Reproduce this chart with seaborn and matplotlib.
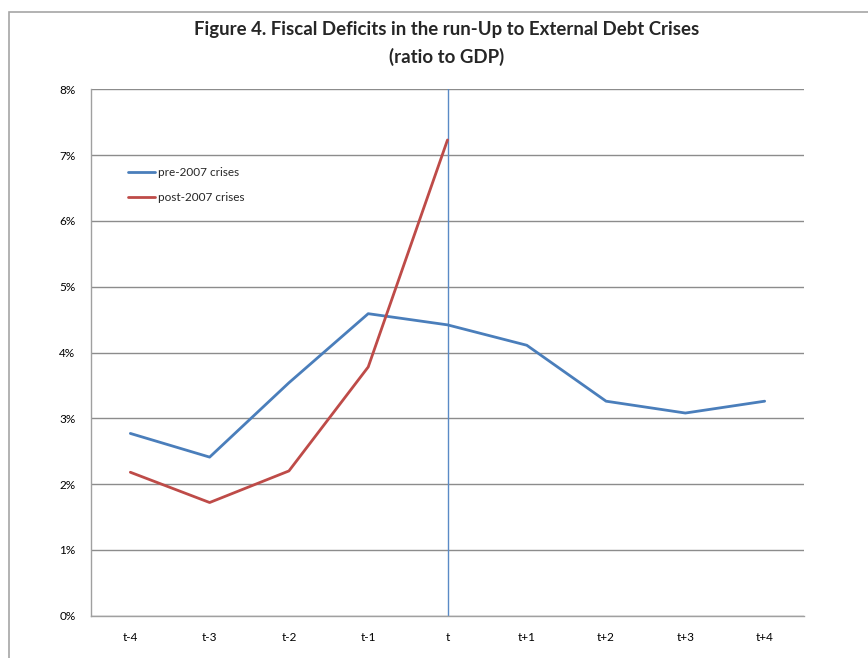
import matplotlib
matplotlib.use("Agg")
import matplotlib.pyplot as plt
from matplotlib.patches import Rectangle
from matplotlib.ticker import FuncFormatter
import seaborn as sns
import pandas as pd

periods = ["t-4", "t-3", "t-2", "t-1", "t", "t+1", "t+2", "t+3", "t+4"]
pre_2007 = [2.77, 2.41, 3.54, 4.59, 4.42, 4.11, 3.26, 3.08, 3.26]
post_2007 = [2.18, 1.72, 2.20, 3.78, 7.23]
series_names = ["pre-2007 crises", "post-2007 crises"]
crisis_period = "t"

rows = []
for p, v in zip(periods, pre_2007):
    rows.append({"period": p, "deficit": v, "series": series_names[0]})
for p, v in zip(periods, post_2007):
    rows.append({"period": p, "deficit": v, "series": series_names[1]})
df = pd.DataFrame(rows)

sns.set_theme(style="white")
plt.rcParams["font.family"] = ["Lato", "DejaVu Sans"]

fig = plt.figure(figsize=(8.68, 6.58), dpi=100)
fig.patch.set_facecolor("white")
# chart border
fig.patches.append(Rectangle((9 / 868, -0.05), 1.2, 1 - 11.5 / 658 + 0.05,
                             transform=fig.transFigure, fill=False,
                             edgecolor="#a6a6a6", linewidth=1.2))

ax = fig.add_axes([90.7 / 868, 42.3 / 658, 713.6 / 868, 526.4 / 658])
palette = {series_names[0]: "#4a7ebb", series_names[1]: "#be4b48"}
sns.lineplot(data=df, x="period", y="deficit", hue="series", palette=palette,
             linewidth=2.0, ax=ax, sort=False)

ax.set_xlim(-0.5, len(periods) - 0.5)
ax.set_ylim(0, 8)
ax.set_yticks(range(0, 9))
ax.yaxis.set_major_formatter(FuncFormatter(lambda v, _: f"{v:.0f}%"))
ax.set_xticks(range(len(periods)))
ax.set_xticklabels(periods)
ax.grid(axis="y", color="#8c8c8c", linewidth=1.0)
ax.set_axisbelow(True)
for s in ["top", "right"]:
    ax.spines[s].set_visible(False)
for s in ["left", "bottom"]:
    ax.spines[s].set_color("#a0a0a0")
    ax.spines[s].set_linewidth(1.0)
ax.tick_params(axis="both", length=0, labelsize=8.5, colors="black")
ax.tick_params(axis="y", pad=11)
ax.tick_params(axis="x", pad=12)
ax.set_xlabel("")
ax.set_ylabel("")

ax.axvline(periods.index(crisis_period), ymin=0, ymax=1, color="#5a8ac6",
           linewidth=1.0, zorder=1)

ax.legend(frameon=False, loc="upper left", bbox_to_anchor=(0.037, 0.872),
          fontsize=8.5, handlelength=2.3, handletextpad=0.3, labelspacing=1.2)

fig.text(0.515, 1 - 30 / 658, "Figure 4. Fiscal Deficits in the run-Up to External Debt Crises",
         ha="center", va="center", fontsize=13.4, fontweight="bold")
fig.text(0.515, 1 - 57 / 658, "(ratio to GDP)",
         ha="center", va="center", fontsize=13.4, fontweight="bold")

fig.savefig("out.png", dpi=100)
